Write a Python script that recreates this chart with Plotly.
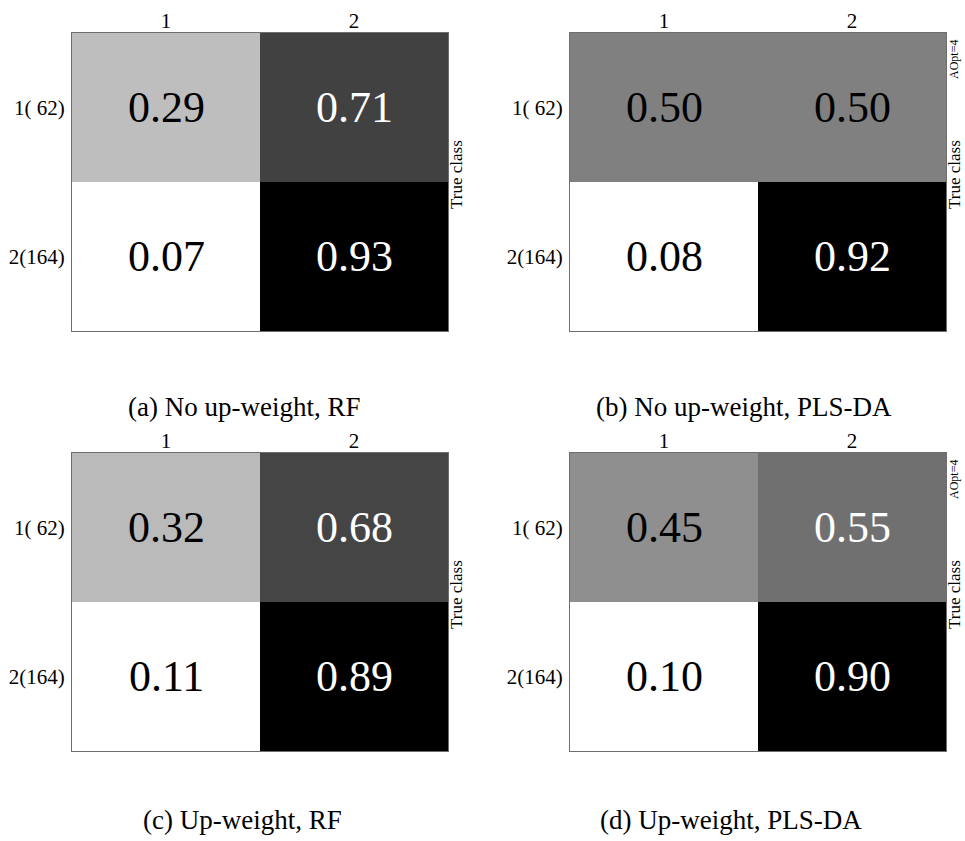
import plotly.graph_objects as go

# Confusion matrices (rows: true class, columns: predicted class)
pred_classes = ["1", "2"]
true_classes = ["1( 62)", "2(164)"]

rf_no_weight = [[0.29, 0.71], [0.07, 0.93]]
plsda_no_weight = [[0.50, 0.50], [0.08, 0.92]]
rf_weight = [[0.32, 0.68], [0.11, 0.89]]
plsda_weight = [[0.45, 0.55], [0.10, 0.90]]

captions = [
    "(a) No up-weight, RF",
    "(b) No up-weight, PLS-DA",
    "(c) Up-weight, RF",
    "(d) Up-weight, PLS-DA",
]
aopt_label = "AOpt=4"

W, H = 965, 841
FONT = "Liberation Serif"


def px(x):
    return x / W


def py(y):
    return 1 - y / H


# panel boxes in pixels: (left, top, right, bottom)
boxes = [
    (72, 33, 448, 331),
    (570, 33, 946, 331),
    (72, 453, 448, 751),
    (570, 453, 946, 751),
]
caption_pos = [(244, 407), (744, 407), (243, 820), (731, 820)]
matrices = [rf_no_weight, plsda_no_weight, rf_weight, plsda_weight]
has_aopt = [False, True, False, True]

col_idx = list(range(len(pred_classes)))
row_idx = list(range(len(true_classes)))

fig = go.Figure()
annotations = []

for i, (z, box) in enumerate(zip(matrices, boxes)):
    n = i + 1
    xa = "x" if n == 1 else f"x{n}"
    ya = "y" if n == 1 else f"y{n}"
    fig.add_trace(go.Heatmap(
        z=z, x=col_idx, y=row_idx,
        colorscale=[[0, "white"], [1, "black"]],
        showscale=False, xaxis=xa, yaxis=ya, hoverinfo="skip",
    ))
    zmin = min(min(r) for r in z)
    zmax = max(max(r) for r in z)
    for r, row in enumerate(z):
        for c, v in enumerate(row):
            t = (v - zmin) / (zmax - zmin)
            annotations.append(dict(
                x=col_idx[c], y=row_idx[r], xref=xa, yref=ya,
                text=f"{v:.2f}", showarrow=False,
                font=dict(family=FONT, size=44, color="white" if t > 0.5 else "black"),
            ))
    l, t_, r_, b = box
    axis_common = dict(showline=True, mirror=True, linecolor="#6e6e6e", linewidth=1,
                       ticks="", showgrid=False, zeroline=False,
                       tickfont=dict(family=FONT, size=21, color="black"))
    fig.layout[("xaxis" if n == 1 else f"xaxis{n}")] = dict(
        domain=[px(l), px(r_)], anchor=ya, side="top",
        range=[-0.5, len(pred_classes) - 0.5],
        tickvals=col_idx, ticktext=pred_classes,
        ticklabelstandoff=-4, **axis_common)
    fig.layout[("yaxis" if n == 1 else f"yaxis{n}")] = dict(
        domain=[py(b), py(t_)], anchor=xa,
        range=[len(true_classes) - 0.5, -0.5],
        tickvals=row_idx, ticktext=true_classes,
        ticklabelstandoff=2, **axis_common)

    # vertical "True class" label beside the matrix
    annotations.append(dict(
        x=px(r_ + 8), y=py(t_ + 142), xref="paper", yref="paper",
        text="True class", textangle=-90, showarrow=False,
        xanchor="center", yanchor="middle", borderpad=0,
        font=dict(family=FONT, size=17, color="black"),
    ))
    if has_aopt[i]:
        annotations.append(dict(
            x=px(r_ + 8), y=py(t_ + 27), xref="paper", yref="paper",
            text=aopt_label, textangle=-90, showarrow=False,
            xanchor="center", yanchor="middle", borderpad=0,
            font=dict(family=FONT, size=12, color="black"),
        ))
    cx, cy = caption_pos[i]
    annotations.append(dict(
        x=px(cx), y=py(cy), xref="paper", yref="paper",
        text=captions[i], showarrow=False, xanchor="center", yanchor="middle",
        font=dict(family=FONT, size=27, color="black"),
    ))

fig.update_layout(
    width=W, height=H, margin=dict(l=0, r=0, t=0, b=0),
    paper_bgcolor="white", plot_bgcolor="white",
    annotations=annotations, showlegend=False,
)

fig.write_html("out.html")
